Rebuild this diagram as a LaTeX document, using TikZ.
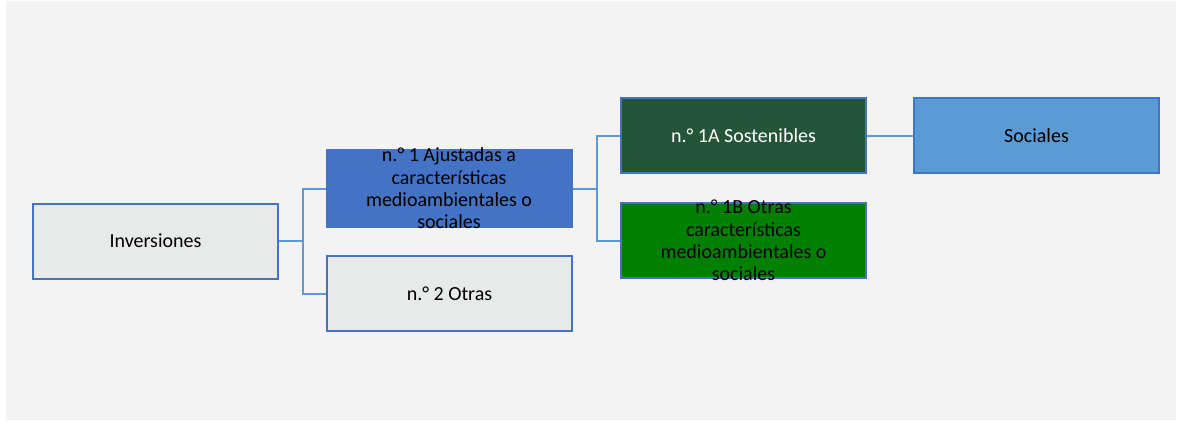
\documentclass[tikz,border=0pt]{standalone}
\usepackage{fontspec}
\setmainfont{Carlito}
\definecolor{bg}{HTML}{F3F3F3}
\definecolor{boxgray}{HTML}{E8EAEA}
\definecolor{bord}{HTML}{4472C4}
\definecolor{conn}{HTML}{5B9BD5}
\definecolor{blueA}{HTML}{4472C4}
\definecolor{dkgreen}{HTML}{255539}
\definecolor{green}{HTML}{008000}
\definecolor{lblue}{HTML}{5B9BD5}
\tikzset{
  boxbase/.style={rectangle, minimum width=245pt, minimum height=75pt, inner sep=0pt, line width=2pt},
  graybox/.style={boxbase, draw=bord, fill=boxgray},
  txt/.style={font=\fontsize{20}{22.3}\selectfont, align=center, inner sep=0pt},
  link/.style={draw=conn, line width=2pt},
}
\begin{document}
\begin{tikzpicture}[x=1pt,y=-1pt]
\useasboundingbox (0,0) rectangle (1177,421);
\fill[bg] (6,1) rectangle (1176,420);
% boxes
\node[graybox] (inv) at (155.5,241) {};
\node[boxbase, fill=blueA, draw=blueA, minimum height=77pt] (n1) at (449,188.5) {};
\node[graybox] (n2) at (449.5,293.5) {};
\node[boxbase, fill=dkgreen, draw=bord] (a1) at (743.5,135.5) {};
\node[boxbase, fill=green, draw=bord] (b1) at (743.5,240.5) {};
\node[boxbase, fill=lblue, draw=bord] (soc) at (1036.5,135.5) {};
% texts
\node[txt] (tinv) at (inv.center) {Inversiones};
\node[txt] (tn1) at (n1.center) {n.° 1 Ajustadas a\\características\\medioambientales o\\sociales};
\node[txt] (tn2) at (n2.center) {n.° 2 Otras};
\node[txt, text=white] (ta1) at (a1.center) {n.° 1A Sostenibles};
\node[txt] (tb1) at (b1.center) {n.° 1B Otras\\características\\medioambientales o\\sociales};
\node[txt] (tsoc) at (soc.center) {Sociales};
% connectors
\path[link] (inv.east) -- ++(24,0) |- (n1.west);
\path[link] (inv.east) -- ++(24,0) |- (n2.west);
\path[link] (n1.east) -- ++(24,0) |- (a1.west);
\path[link] (n1.east) -- ++(24,0) |- (b1.west);
\path[link] (a1.east) -- (soc.west);
\end{tikzpicture}
\end{document}
